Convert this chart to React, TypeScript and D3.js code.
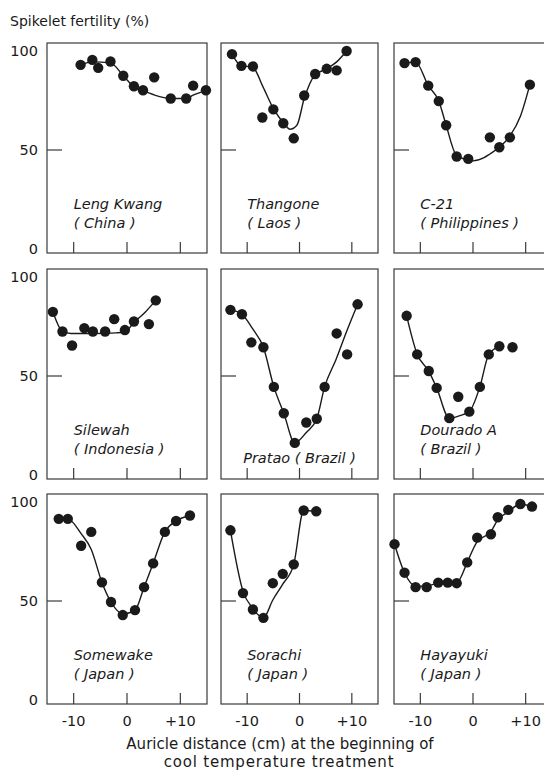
import React from 'react';
import * as d3 from 'd3';

// varieties, read left to right, top to bottom
const varieties = ['Leng Kwang', 'Thangone', 'C-21', 'Silewah', 'Pratao', 'Dourado A', 'Somewake', 'Sorachi', 'Hayayuki'];
const origins = ['China', 'Laos', 'Philippines', 'Indonesia', 'Brazil', 'Brazil', 'Japan', 'Japan', 'Japan'];

// observed points [auricle distance (cm), spikelet fertility (%)]
const lengKwangDots = [[-8.7, 93], [-6.5, 95.5], [-5.4, 91.5], [-3.1, 94.7], [-0.7, 87.5], [1.3, 82.2], [3.0, 80.2], [5.1, 86.7], [8.2, 76], [11.1, 76], [12.4, 82.5], [14.8, 80.2]];
const thangoneDots = [[-12.9, 98.4], [-11.1, 92.5], [-8.9, 92.2], [-7.1, 66.4], [-5.0, 70.5], [-3.1, 63.5], [-1.1, 55.9], [0.9, 77.5], [3.0, 88.4], [5.2, 91], [7.1, 90.2], [9.0, 100]];
const c21Dots = [[-13.0, 93.9], [-10.9, 94.4], [-8.5, 82.5], [-6.5, 74.7], [-5.1, 62.5], [-3.1, 46.7], [-0.9, 45.5], [3.2, 56.4], [5.0, 51.4], [7.0, 56.4], [10.8, 83]];
const silewahDots = [[-13.9, 82.4], [-12.1, 72.5], [-10.3, 65.4], [-8.0, 74.2], [-6.4, 72.5], [-4.1, 72.5], [-2.4, 78.7], [-0.4, 73.2], [1.3, 77.5], [4.1, 76.2], [5.4, 88.2]];
const prataoDots = [[-13.2, 83.4], [-11.0, 81.2], [-9.2, 67], [-6.9, 64.5], [-4.9, 44.5], [-3.0, 31.2], [-0.9, 16.2], [1.3, 26.5], [3.3, 28.4], [4.8, 44.5], [7.1, 71.5], [9.1, 60.9], [11.1, 86.2]];
const douradoDots = [[-12.6, 80.4], [-10.6, 60.9], [-8.4, 52.5], [-6.9, 44], [-4.5, 28.7], [-2.8, 39.5], [-0.7, 32], [1.3, 44.5], [3.0, 60.9], [5.0, 65], [7.5, 64.5]];
const somewakeDots = [[-12.8, 91.5], [-11.1, 91.5], [-8.6, 77.9], [-6.7, 84.9], [-4.7, 59.4], [-3.0, 49.5], [-0.8, 42.9], [1.5, 45.4], [3.2, 57], [4.9, 69], [7.1, 84.9], [9.2, 90.4], [11.8, 93.2]];
const sorachiDots = [[-13.2, 85.7], [-10.8, 54], [-8.9, 45.7], [-6.9, 41.5], [-5.1, 59], [-3.2, 63.7], [-1.1, 68.5], [0.8, 95.7], [3.2, 95.3]];
const hayayukiDots = [[-14.9, 78.7], [-13.0, 64.3], [-10.9, 57], [-8.8, 57], [-6.6, 59.3], [-4.8, 59.3], [-3.1, 59], [-1.1, 69.5], [0.8, 82], [3.4, 83.7], [4.7, 92.3], [6.7, 96], [9.0, 99], [11.2, 97.7]];

// hand-drawn response curves
const lengKwangFit = [[-8.7, 93], [-6.5, 94.5], [-3.1, 94], [-0.7, 87.5], [1.3, 82], [3, 80], [5.1, 77.8], [8.2, 76], [11.1, 76], [12.4, 77.7], [14.8, 80]];
const thangoneFit = [[-12.9, 98.4], [-11.1, 92.5], [-9, 92], [-7, 82], [-5, 71], [-3, 63.5], [-1.8, 60.5], [-0.5, 62.5], [0.9, 76], [3, 88], [5.2, 91], [7.1, 94.5], [9, 100]];
const c21Fit = [[-13, 94], [-10.9, 94.4], [-8.5, 82.5], [-6.5, 74.7], [-5.1, 62.5], [-3.3, 48], [-1.5, 45.2], [0, 44.5], [2, 46], [3.2, 48], [5, 51.4], [7, 57], [9, 67], [10.8, 83]];
const silewahFit = [[-13.9, 82.4], [-12.1, 72.5], [-10.5, 71.5], [-6, 71.5], [-2, 71.8], [-0.4, 72.2], [1.3, 77], [3.5, 82.5], [5.4, 88.2]];
const prataoFit = [[-13.2, 83.4], [-11, 81.2], [-9, 74], [-6.9, 64.5], [-4.9, 44.5], [-3, 31.2], [-0.9, 16.2], [1.3, 21.5], [3.3, 28.4], [4.8, 44.5], [7, 58.5], [9, 72.5], [11.1, 86.2]];
const douradoFit = [[-12.6, 80.4], [-10.6, 61], [-8.4, 52.5], [-6.9, 44], [-4.5, 28.7], [-2.5, 30], [-0.7, 32], [1.3, 44.5], [3, 60.9], [5, 65]];
const somewakeFit = [[-12.8, 91.5], [-11.1, 91.5], [-8.6, 84], [-6.7, 76], [-4.7, 59.4], [-3, 49.5], [-0.8, 43.5], [1.5, 45.4], [3.2, 57], [4.9, 69], [7.1, 84.9], [9.2, 90.4], [11.8, 93.2]];
const sorachiFit = [[-13.2, 85.7], [-10.8, 55], [-9, 46.5], [-6.9, 41.5], [-5.1, 50.5], [-3.2, 58.5], [-1.1, 68.5], [0.8, 95.7], [3.2, 95.3]];
const hayayukiFit = [[-14.9, 78.7], [-13, 64.3], [-10.9, 57.5], [-8.8, 57.5], [-6.6, 59], [-3.1, 59], [-2.3, 62], [-1.1, 69.5], [0.8, 80], [3.4, 85], [4.7, 91], [6.7, 95], [9, 99], [11.2, 97.7]];

const allDots = [lengKwangDots, thangoneDots, c21Dots, silewahDots, prataoDots, douradoDots, somewakeDots, sorachiDots, hayayukiDots];
const allFits = [lengKwangFit, thangoneFit, c21Fit, silewahFit, prataoFit, douradoFit, somewakeFit, sorachiFit, hayayukiFit];

const xTicks = [-10, 0, 10];
const xTickLabels = ['-10', '0', '+10'];
const yTicks = [0, 50, 100];

const colLeft = [47, 221, 394];
const colWidth = [160, 157, 158];
const rowTop = [43, 269, 494];
const rowHeight = 210;

const ink = '#1a1a1a';
const frameColor = '#3a3a3a';
const font = 'DejaVu Sans, sans-serif';

const Panel = ({ i }: { i: number }) => {
  const col = i % 3;
  const row = Math.floor(i / 3);
  const left = colLeft[col];
  const top = rowTop[row];
  const bottom = top + rowHeight;

  const x = d3.scaleLinear().domain([-15, 15]).range([left, left + colWidth[col]]);
  const y = d3.scaleLinear().domain([0, 100]).range([bottom - 4, top + 8]);

  const line = d3
    .line<number[]>()
    .x((d) => x(d[0]))
    .y((d) => y(d[1]))
    .curve(d3.curveMonotoneX);

  const singleLine = varieties[i] === 'Pratao';
  const lx = singleLine ? x(-10) - 4 : x(-10);

  return (
    <g>
      <rect x={left} y={top} width={colWidth[col]} height={rowHeight} fill="none" stroke={frameColor} strokeWidth={1.2} />
      <line x1={left} x2={left + 15} y1={y(50)} y2={y(50)} stroke={frameColor} strokeWidth={1.2} />
      {xTicks.map((t) => (
        <line key={t} x1={x(t)} x2={x(t)} y1={bottom} y2={bottom - 11} stroke={frameColor} strokeWidth={1.2} />
      ))}

      <path d={line(allFits[i]) || ''} fill="none" stroke={ink} strokeWidth={1.4} />
      {allDots[i].map((d, k) => (
        <circle key={k} cx={x(d[0])} cy={y(d[1])} r={5.2} fill={ink} />
      ))}

      {singleLine ? (
        <text x={lx} y={top + 194} fontFamily={font} fontStyle="italic" fontSize={14.5} fill={ink}>
          {`${varieties[i]} ( ${origins[i]} )`}
        </text>
      ) : (
        <>
          <text x={lx} y={top + 166} fontFamily={font} fontStyle="italic" fontSize={14.5} fill={ink}>
            {varieties[i]}
          </text>
          <text x={lx} y={top + 185} fontFamily={font} fontStyle="italic" fontSize={14.5} fill={ink}>
            {`( ${origins[i]} )`}
          </text>
        </>
      )}

      {col === 0 &&
        yTicks.map((t) => (
          <text key={t} x={left - 9} y={y(t) + 5} textAnchor="end" fontFamily={font} fontSize={14.5} fill={ink}>
            {t}
          </text>
        ))}

      {row === 2 &&
        xTicks.map((t, k) => (
          <text key={t} x={x(t)} y={bottom + 22} textAnchor="middle" fontFamily={font} fontSize={14.5} fill={ink}>
            {xTickLabels[k]}
          </text>
        ))}
    </g>
  );
};

export default function App() {
  return (
    <svg
      width={544}
      height={782}
      style={{ position: 'absolute', left: 0, top: 0, background: '#fff' }}
    >
      <text x={10} y={26} fontFamily={font} fontSize={14} fill={ink}>
        Spikelet fertility (%)
      </text>
      {varieties.map((v, i) => (
        <Panel key={v + i} i={i} />
      ))}
      <text x={280} y={749} textAnchor="middle" fontFamily={font} fontSize={15} fill={ink}>
        Auricle distance (cm) at the beginning of
      </text>
      <text x={279} y={767} textAnchor="middle" fontFamily={font} fontSize={15} letterSpacing={0.8} fill={ink}>
        cool temperature treatment
      </text>
    </svg>
  );
}
